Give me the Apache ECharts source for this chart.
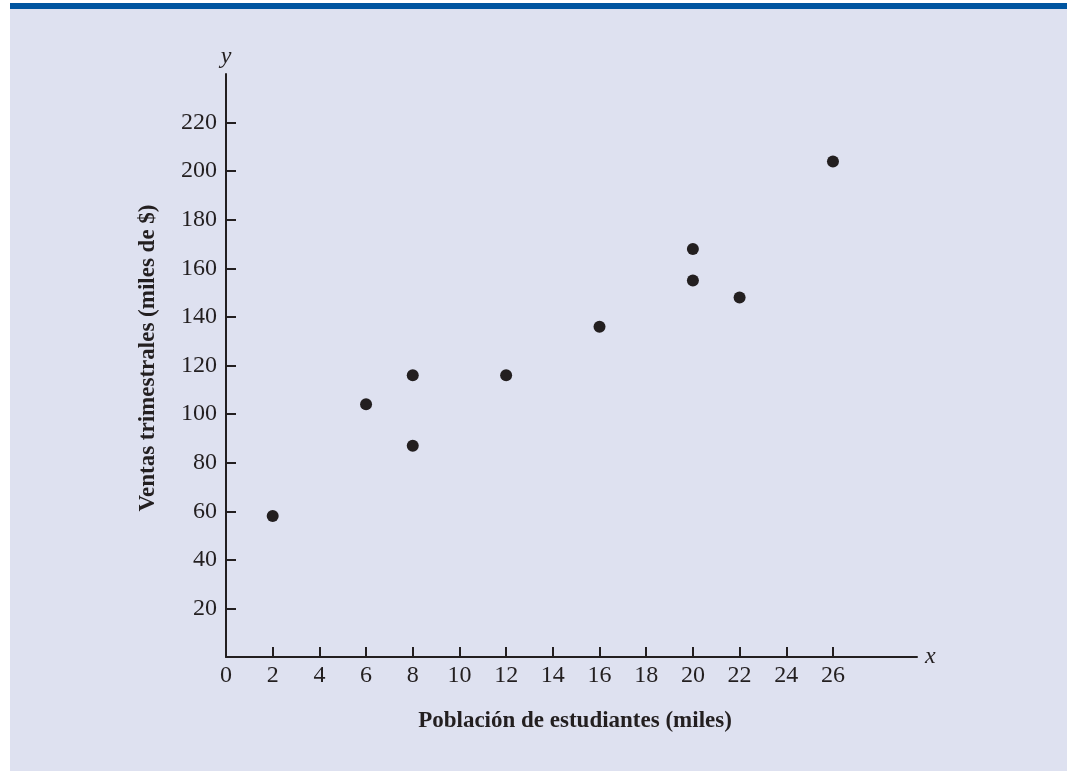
<!DOCTYPE html>
<html>
<head>
<meta charset="utf-8">
<script src="https://cdn.jsdelivr.net/npm/echarts@6/dist/echarts.min.js"></script>
<style>
  html, body { margin: 0; padding: 0; background: #ffffff; }
  #chart { width: 1067px; height: 771px; }
</style>
</head>
<body>
<div id="chart"></div>
<script>
// student population (thousands) vs quarterly sales (thousands of $)
const poblacion = [2, 6, 8, 8, 12, 16, 20, 20, 22, 26];
const ventas = [58, 104, 87, 116, 116, 136, 155, 168, 148, 204];
const xTicks = [0, 2, 4, 6, 8, 10, 12, 14, 16, 18, 20, 22, 24, 26];
const yTicks = [20, 40, 60, 80, 100, 120, 140, 160, 180, 200, 220];

const serif = '"Liberation Serif", "DejaVu Serif", serif';
const ink = '#231f20';

let points = poblacion.map(function (p, i) { return [p, ventas[i]]; });

let myChart = echarts.init(document.getElementById('chart'), null, { renderer: 'canvas' });
let option;

option = {
    backgroundColor: '#ffffff',
    animation: false,
    graphic: [
        { type: 'rect', z: -10, shape: { x: 10, y: 3, width: 1057, height: 768 }, style: { fill: '#dee1f0' } },
        { type: 'rect', z: -9, shape: { x: 10, y: 3, width: 1057, height: 6 }, style: { fill: '#0055a0' } },
        {
            type: 'text', x: 575, y: 721,
            style: { text: 'Población de estudiantes (miles)', font: 'bold 23px ' + serif, fill: ink, align: 'center', verticalAlign: 'middle' }
        },
        {
            type: 'text', x: 148, y: 358, rotation: Math.PI / 2,
            style: { text: 'Ventas trimestrales (miles de $)', font: 'bold 23px ' + serif, fill: ink, align: 'center', verticalAlign: 'middle' }
        }
    ],
    grid: { left: 226, right: 150, top: 74, bottom: 114, containLabel: false },
    xAxis: {
        type: 'value',
        min: 0,
        max: 29.6,
        name: 'x',
        nameLocation: 'end',
        nameGap: 8,
        nameTextStyle: { fontFamily: serif, fontStyle: 'italic', fontSize: 24, color: ink, verticalAlign: 'middle' },
        axisLine: { show: true, lineStyle: { color: ink, width: 2 } },
        axisTick: { show: true, inside: true, length: 10, lineStyle: { color: ink, width: 2 }, customValues: xTicks.slice(1) },
        axisLabel: { fontFamily: serif, fontSize: 24, color: ink, margin: 7, customValues: xTicks },
        splitLine: { show: false }
    },
    yAxis: {
        type: 'value',
        min: 0,
        max: 240,
        name: 'y',
        nameLocation: 'end',
        nameGap: 5,
        nameTextStyle: { fontFamily: serif, fontStyle: 'italic', fontSize: 24, color: ink, align: 'center' },
        axisLine: { show: true, lineStyle: { color: ink, width: 2 } },
        axisTick: { show: true, inside: true, length: 10, lineStyle: { color: ink, width: 2 }, customValues: yTicks },
        axisLabel: { fontFamily: serif, fontSize: 24, color: ink, margin: 9, customValues: yTicks },
        splitLine: { show: false }
    },
    series: [{
        type: 'scatter',
        data: points,
        symbol: 'circle',
        symbolSize: 12,
        itemStyle: { color: ink, opacity: 1 }
    }]
};

if (option && typeof option === 'object') {
    myChart.setOption(option);
}
</script>
</body>
</html>
